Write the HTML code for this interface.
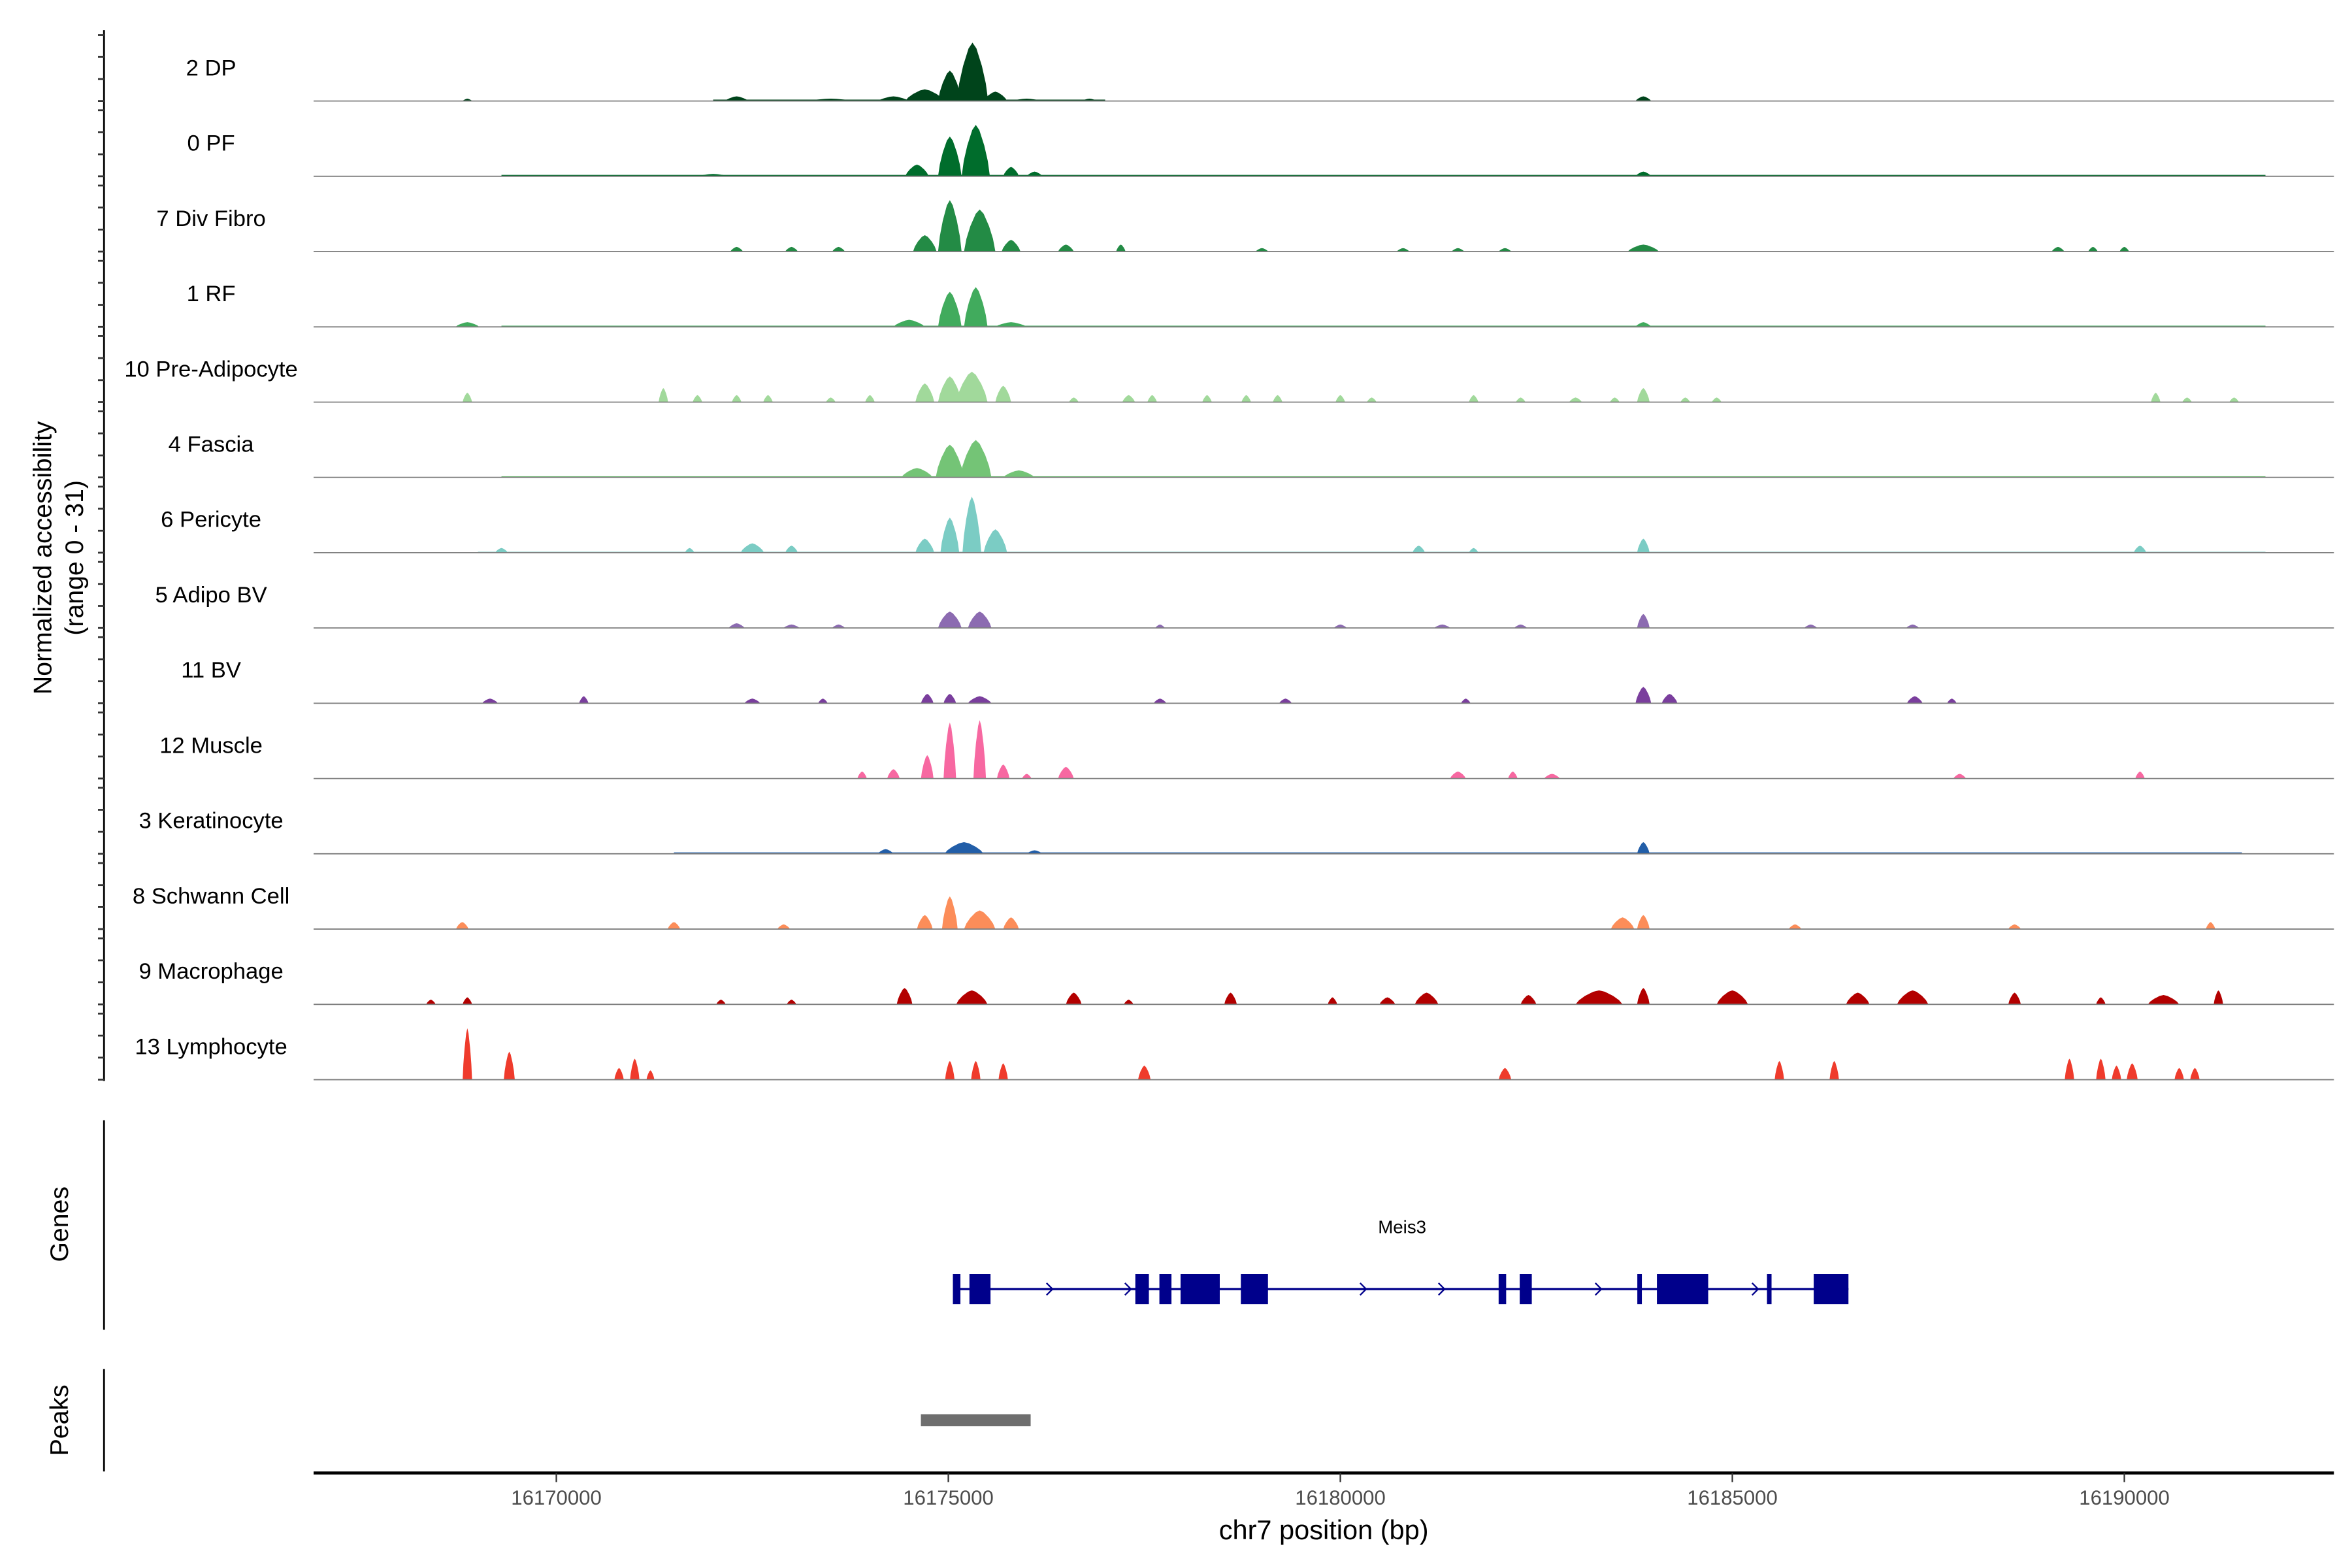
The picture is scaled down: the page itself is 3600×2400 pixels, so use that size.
<!DOCTYPE html>
<html><head><meta charset="utf-8"><style>
html,body{margin:0;padding:0;background:#fff;}
svg{display:block;font-family:"Liberation Sans",sans-serif;}
</style></head>
<body>
<svg id="chart" width="3600" height="2400" viewBox="0 0 1560 1040" preserveAspectRatio="none" xmlns="http://www.w3.org/2000/svg">
<rect x="0" y="0" width="1560" height="1040" fill="#fff"/>
<g id="tracks"></g>
<g id="leftaxis"></g>
<text transform="translate(34,370) rotate(-90)" text-anchor="middle" font-size="17" fill="#000">Normalized accessibility</text>
<text transform="translate(55,370) rotate(-90)" text-anchor="middle" font-size="17" fill="#000">(range 0 - 31)</text>
<line x1="69" y1="743" x2="69" y2="882" stroke="#000" stroke-width="1.2"/>
<text transform="translate(45,812) rotate(-90)" text-anchor="middle" font-size="17" fill="#000">Genes</text>
<text x="930" y="818" text-anchor="middle" font-size="12" fill="#000">Meis3</text>
<g id="gene"></g>
<line x1="69" y1="908" x2="69" y2="976" stroke="#000" stroke-width="1.2"/>
<text transform="translate(45,942) rotate(-90)" text-anchor="middle" font-size="17" fill="#000">Peaks</text>
<g id="peaks"></g>
<line x1="208" y1="977" x2="1548" y2="977" stroke="#000" stroke-width="2"/>
<g id="xaxis"></g>
<text x="878" y="1021" text-anchor="middle" font-size="18" fill="#000">chr7 position (bp)</text>
</svg>
<script>
const trackNames = ["2 DP","0 PF","7 Div Fibro","1 RF","10 Pre-Adipocyte","4 Fascia","6 Pericyte","5 Adipo BV","11 BV","12 Muscle","3 Keratinocyte","8 Schwann Cell","9 Macrophage","13 Lymphocyte"];
const trackColors = ["#00441b","#006d2c","#238b45","#41ab5d","#a1d99b","#74c476","#7bccc4","#8c6bb1","#7a3e9d","#f768a1","#225ea8","#fc8d59","#b30000","#ef3b2c"];
// bumps: [center bp, height (0-31), half-width bp]
const trackPeaks = [
 [[16175019,13,150],[16175308,25,200],[16174700,5,250],[16175600,4,150],[16172300,2,150],[16183865,2,100],[16174300,2,200],[16176000,1,200],[16173500,1,300],[16168865,1,60],[16176800,1,100]],
 [[16175019,17,150],[16175350,22,180],[16174600,5,150],[16175800,4,100],[16176100,2,100],[16183865,2,100],[16172000,1,200]],
 [[16175019,22,150],[16175400,18,200],[16174700,7,150],[16175800,5,120],[16176500,3,100],[16172300,2,80],[16173000,2,80],[16173600,2,80],[16183865,3,200],[16189154,2,80],[16189600,2,60],[16190000,2,60],[16179000,1.5,80],[16180800,1.5,80],[16181500,1.5,80],[16182100,1.5,80],[16177200,3,60]],
 [[16175019,15,150],[16175350,17,150],[16174500,3,200],[16175800,2,200],[16168865,2,150],[16183865,2,100]],
 [[16175019,11,150],[16175300,13,200],[16174700,8,120],[16175700,7,100],[16171365,6,60],[16183865,6,80],[16168865,4,60],[16190400,4,60],[16171800,3,60],[16172300,3,60],[16172700,3,60],[16173500,2,60],[16174000,3,60],[16176600,2,60],[16177300,3,80],[16177600,3,60],[16178300,3,60],[16178800,3,60],[16179200,3,60],[16180000,3,60],[16180400,2,60],[16181700,3,60],[16182300,2,60],[16183000,2,80],[16183500,2,60],[16184400,2,60],[16184800,2,60],[16190800,2,60],[16191400,2,60]],
 [[16175019,14,180],[16175350,16,200],[16174600,4,200],[16175900,3,200]],
 [[16175019,15,120],[16175300,24,120],[16175600,10,150],[16174700,6,120],[16183865,6,80],[16172500,4,150],[16173000,3,80],[16181000,3,80],[16190200,3,80],[16169300,2,80],[16171700,2,60],[16181700,2,60]],
 [[16175019,7,150],[16175400,7,150],[16183865,6,80],[16172300,2,100],[16173000,1.5,100],[16173600,1.5,80],[16177700,1.5,60],[16180000,1.5,80],[16181300,1.5,100],[16182300,1.5,80],[16186000,1.5,80],[16187300,1.5,80]],
 [[16183865,7,100],[16184200,4,100],[16174731,4,80],[16175019,4,80],[16175400,3,150],[16169154,2,100],[16170350,3,60],[16172500,2,100],[16173400,2,60],[16177700,2,80],[16179300,2,80],[16181600,2,60],[16187327,3,100],[16187800,2,60]],
 [[16175019,24,80],[16175400,25,80],[16174731,10,80],[16175700,6,80],[16176500,5,100],[16174300,4,80],[16173900,3,60],[16181500,3,100],[16182200,3,60],[16182700,2,100],[16187900,2,80],[16190200,3,60],[16176000,2,60]],
 [[16175200,5,250],[16183865,5,80],[16174200,2,100],[16176100,1.5,100]],
 [[16175019,14,100],[16175400,8,200],[16175800,5,100],[16174700,6,100],[16183600,5,150],[16183865,6,80],[16171500,3,80],[16168800,3,80],[16172900,2,80],[16185800,2,80],[16188600,2,80],[16191100,3,60]],
 [[16168400,2,60],[16168865,3,60],[16174442,7,100],[16175300,6,200],[16176600,5,100],[16178600,5,80],[16179900,3,60],[16181100,5,150],[16182400,4,100],[16183300,6,300],[16183865,7,80],[16185000,6,200],[16186600,5,150],[16187300,6,200],[16188600,5,80],[16189700,3,60],[16190500,4,200],[16191200,6,60],[16172100,2,60],[16173000,2,60],[16177300,2,60],[16180600,3,100]],
 [[16168865,22,60],[16169400,12,70],[16170800,5,60],[16171000,9,60],[16171200,4,50],[16175019,8,60],[16175350,8,60],[16175700,7,60],[16177500,6,80],[16182100,5,80],[16185600,8,60],[16186300,8,60],[16189300,9,60],[16189700,9,60],[16189900,6,60],[16190100,7,70],[16190700,5,60],[16190900,5,60]]
];
// low background floor per track: [start bp, end bp, value]
const trackFloors = [[16172000,16177000,0.6],[16169300,16191800,0.6],[0,0,0],[16169300,16191800,0.5],[0,0,0],[16169300,16191800,0.5],[16169000,16191800,0.4],[0,0,0],[0,0,0],[0,0,0],[16171500,16191500,0.6],[0,0,0],[0,0,0],[0,0,0]];
const xTicks = [16170000,16175000,16180000,16185000,16190000];
const exons = [[16175058,16175154],[16175269,16175538],[16177385,16177558],[16177692,16177846],[16177962,16178462],[16178731,16179077],[16182019,16182115],[16182288,16182442],[16183788,16183846],[16184038,16184692],[16185442,16185500],[16186038,16186481]];
const geneSpan = [16175058,16186481];
const intronArrows = [16176310,16177310,16180310,16181310,16183310,16185310];
const peakRegions = [[16174650,16176050]];

const NS="http://www.w3.org/2000/svg";
function x(bp){return 369+(bp-16170000)*260/5000;}
function mk(tag,attrs,parent){const e=document.createElementNS(NS,tag);for(const k in attrs)e.setAttribute(k,attrs[k]);parent.appendChild(e);return e;}
const yPx=1.55;
const tracksG=document.getElementById('tracks');
const axisG=document.getElementById('leftaxis');
const a=mk('line',{x1:69,y1:20,x2:69,y2:717,stroke:'#000','stroke-width':1.2},axisG);


trackNames.forEach((name,i)=>{
  const base=67+i*49.93;
  const g=mk('g',{},tracksG);
  
  
  const col=trackColors[i];
  const f=trackFloors[i];
  if(f[2]>0){
    const fr=mk('rect',{x:x(f[0]),y:base-f[2]*yPx,width:x(f[1])-x(f[0]),height:f[2]*yPx,fill:col},g);
    
    
  }
  trackPeaks[i].forEach(p=>{
    const c=p[0],h=p[1]*yPx,w=p[2];
    const pts=[[x(c-w),base],[x(c-w*0.85),base-h*0.3],[x(c-w*0.6),base-h*0.6],[x(c-w*0.25),base-h*0.9],[x(c),base-h],[x(c+w*0.25),base-h*0.9],[x(c+w*0.6),base-h*0.6],[x(c+w*0.85),base-h*0.3],[x(c+w),base]];
    const pg=mk('polygon',{points:pts.map(q=>q[0].toFixed(2)+','+q[1].toFixed(2)).join(' '),fill:col},g);
    
    
  });
  const bl=mk('line',{x1:208,y1:base,x2:1548,y2:base,stroke:'#7f7f7f','stroke-width':0.8},g);
  
  
  const t=mk('text',{x:140,y:base-17,'text-anchor':'middle','font-size':'15',fill:'#000'},g);
  t.textContent=name;
  
  
  [0,14.6,29.2,43.8].forEach(d=>{
    const tk=mk('line',{x1:65,y1:base-d,x2:69,y2:base-d,stroke:'#333','stroke-width':1.2},axisG);
    
    
  });
});
// gene
const gg=document.getElementById('gene');
const gl=mk('line',{x1:x(geneSpan[0]),y1:855,x2:x(geneSpan[1]),y2:855,stroke:'#00008b','stroke-width':1.5},gg);


exons.forEach(e=>{
  const r=mk('rect',{x:x(e[0]),y:845,width:Math.max(2,x(e[1])-x(e[0])),height:20,fill:'#00008b'},gg);
  
  
});
intronArrows.forEach(b=>{
  const ax=x(b);
  const p=mk('polyline',{points:`${ax-3},851 ${ax+1},855 ${ax-3},859`,fill:'none',stroke:'#00008b','stroke-width':1},gg);
  
  
});
// peaks
const pkG=document.getElementById('peaks');
peakRegions.forEach(p=>{
  const r=mk('rect',{x:x(p[0]),y:938,width:x(p[1])-x(p[0]),height:8,fill:'#6e6e6e'},pkG);
  
  
});
// x axis
const xg=document.getElementById('xaxis');
xTicks.forEach(v=>{
  const l=mk('line',{x1:x(v),y1:977,x2:x(v),y2:983,stroke:'#333','stroke-width':1},xg);
  
  
  const t=mk('text',{x:x(v),y:998,'text-anchor':'middle','font-size':'13.5',fill:'#4d4d4d'},xg);
  t.textContent=String(v);
  
  
});
</script>
</body></html>
